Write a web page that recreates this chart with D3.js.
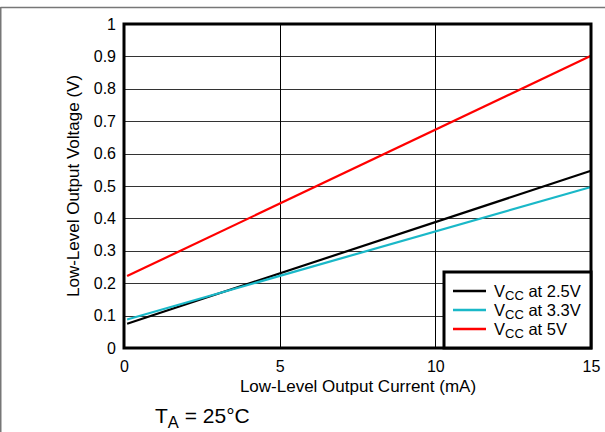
<!DOCTYPE html>
<html><head><meta charset="utf-8">
<script src="https://cdn.jsdelivr.net/npm/d3@7"></script>
<style>body{margin:0;background:#fff}svg{display:block;font-family:"Liberation Sans",Arial,sans-serif}</style>
</head><body>
<svg id="c" width="605" height="432"></svg>
<script>
// Data
const currents = [0.1, 15];
const series = [
  {name: "2.5V", color: "#000000", values: [0.075, 0.547]},
  {name: "3.3V", color: "#1ab8c8", values: [0.088, 0.497]},
  {name: "5V",   color: "#ff0000", values: [0.222, 0.902]}
];
const xTicks = [0, 5, 10, 15];
const yTicks = [0, 0.1, 0.2, 0.3, 0.4, 0.5, 0.6, 0.7, 0.8, 0.9, 1];

const FF = "Liberation Sans, Arial, sans-serif";
const svg = d3.select("#c");
const L = 124, R = 591, T = 24, B = 348;
const x = d3.scaleLinear().domain([0, 15]).range([L, R]);
const y = d3.scaleLinear().domain([0, 1]).range([B, T]);

// outer border (top/left)
svg.append("line").attr("x1", 0.5).attr("x2", 605).attr("y1", 7.5).attr("y2", 7.5).attr("stroke", "#777").attr("stroke-width", 1.5);
svg.append("line").attr("x1", 0.75).attr("x2", 0.75).attr("y1", 7).attr("y2", 432).attr("stroke", "#777").attr("stroke-width", 1.5);

// grid
svg.append("g").selectAll("line").data(yTicks.slice(1, -1)).join("line")
  .attr("x1", L).attr("x2", R).attr("y1", d => Math.round(y(d)) + 0.5).attr("y2", d => Math.round(y(d)) + 0.5)
  .attr("stroke", "#333").attr("stroke-width", 1);
svg.append("g").selectAll("line").data(xTicks.slice(1, -1)).join("line")
  .attr("y1", T).attr("y2", B).attr("x1", d => Math.round(x(d)) + 0.5).attr("x2", d => Math.round(x(d)) + 0.5)
  .attr("stroke", "#000").attr("stroke-width", 1);

// axes labels via d3 axes
const xAxis = svg.append("g").attr("transform", `translate(0,${B})`)
  .call(d3.axisBottom(x).tickValues(xTicks).tickSize(0).tickPadding(13).tickFormat(d3.format("d")));
xAxis.select(".domain").remove();
xAxis.selectAll("text").attr("font-size", 16).attr("fill", "#000").attr("font-family", FF);

const yAxis = svg.append("g").attr("transform", `translate(${L},0)`)
  .call(d3.axisLeft(y).tickValues(yTicks).tickSize(0).tickPadding(8).tickFormat(d => d === 0 || d === 1 ? String(d) : d3.format(".1f")(d)));
yAxis.select(".domain").remove();
yAxis.selectAll("text").attr("font-size", 16).attr("fill", "#000").attr("font-family", FF);

// lines
const line = d3.line().x((d, i) => x(currents[i])).y(d => y(d));
svg.append("g").selectAll("path").data(series).join("path")
  .attr("d", s => line(s.values)).attr("fill", "none").attr("stroke", s => s.color).attr("stroke-width", 2.2);

// frame
svg.append("rect").attr("x", L).attr("y", T).attr("width", R - L).attr("height", B - T)
  .attr("fill", "none").attr("stroke", "#000").attr("stroke-width", 3);

// legend
const lg = svg.append("g");
lg.append("rect").attr("x", 444).attr("y", 272).attr("width", R - 444).attr("height", B - 272)
  .attr("fill", "#fff").attr("stroke", "#000").attr("stroke-width", 3);
series.forEach((s, i) => {
  const yy = 291 + i * 19;
  lg.append("line").attr("x1", 453).attr("x2", 486).attr("y1", yy).attr("y2", yy).attr("stroke", s.color).attr("stroke-width", 2.5);
  const t = lg.append("text").attr("x", 494).attr("y", yy + 6).attr("font-size", 16.5).attr("fill", "#000");
  t.append("tspan").text("V");
  t.append("tspan").attr("font-size", 13).attr("dy", 3).text("CC");
  t.append("tspan").attr("dy", -3).text(" at " + s.name);
});

// axis titles
svg.append("text").attr("x", 358).attr("y", 392).attr("text-anchor", "middle")
  .attr("font-size", 17).attr("fill", "#000").text("Low-Level Output Current (mA)");
svg.append("text").attr("transform", `translate(79,${(T + B) / 2}) rotate(-90)`).attr("text-anchor", "middle")
  .attr("font-size", 17).attr("fill", "#000").text("Low-Level Output Voltage (V)");

// annotation
const ta = svg.append("text").attr("x", 155).attr("y", 423).attr("font-size", 21).attr("fill", "#000");
ta.append("tspan").text("T");
ta.append("tspan").attr("font-size", 16.5).attr("dy", 5).text("A");
ta.append("tspan").attr("dy", -5).text(" = 25°C");
</script>
</body></html>
